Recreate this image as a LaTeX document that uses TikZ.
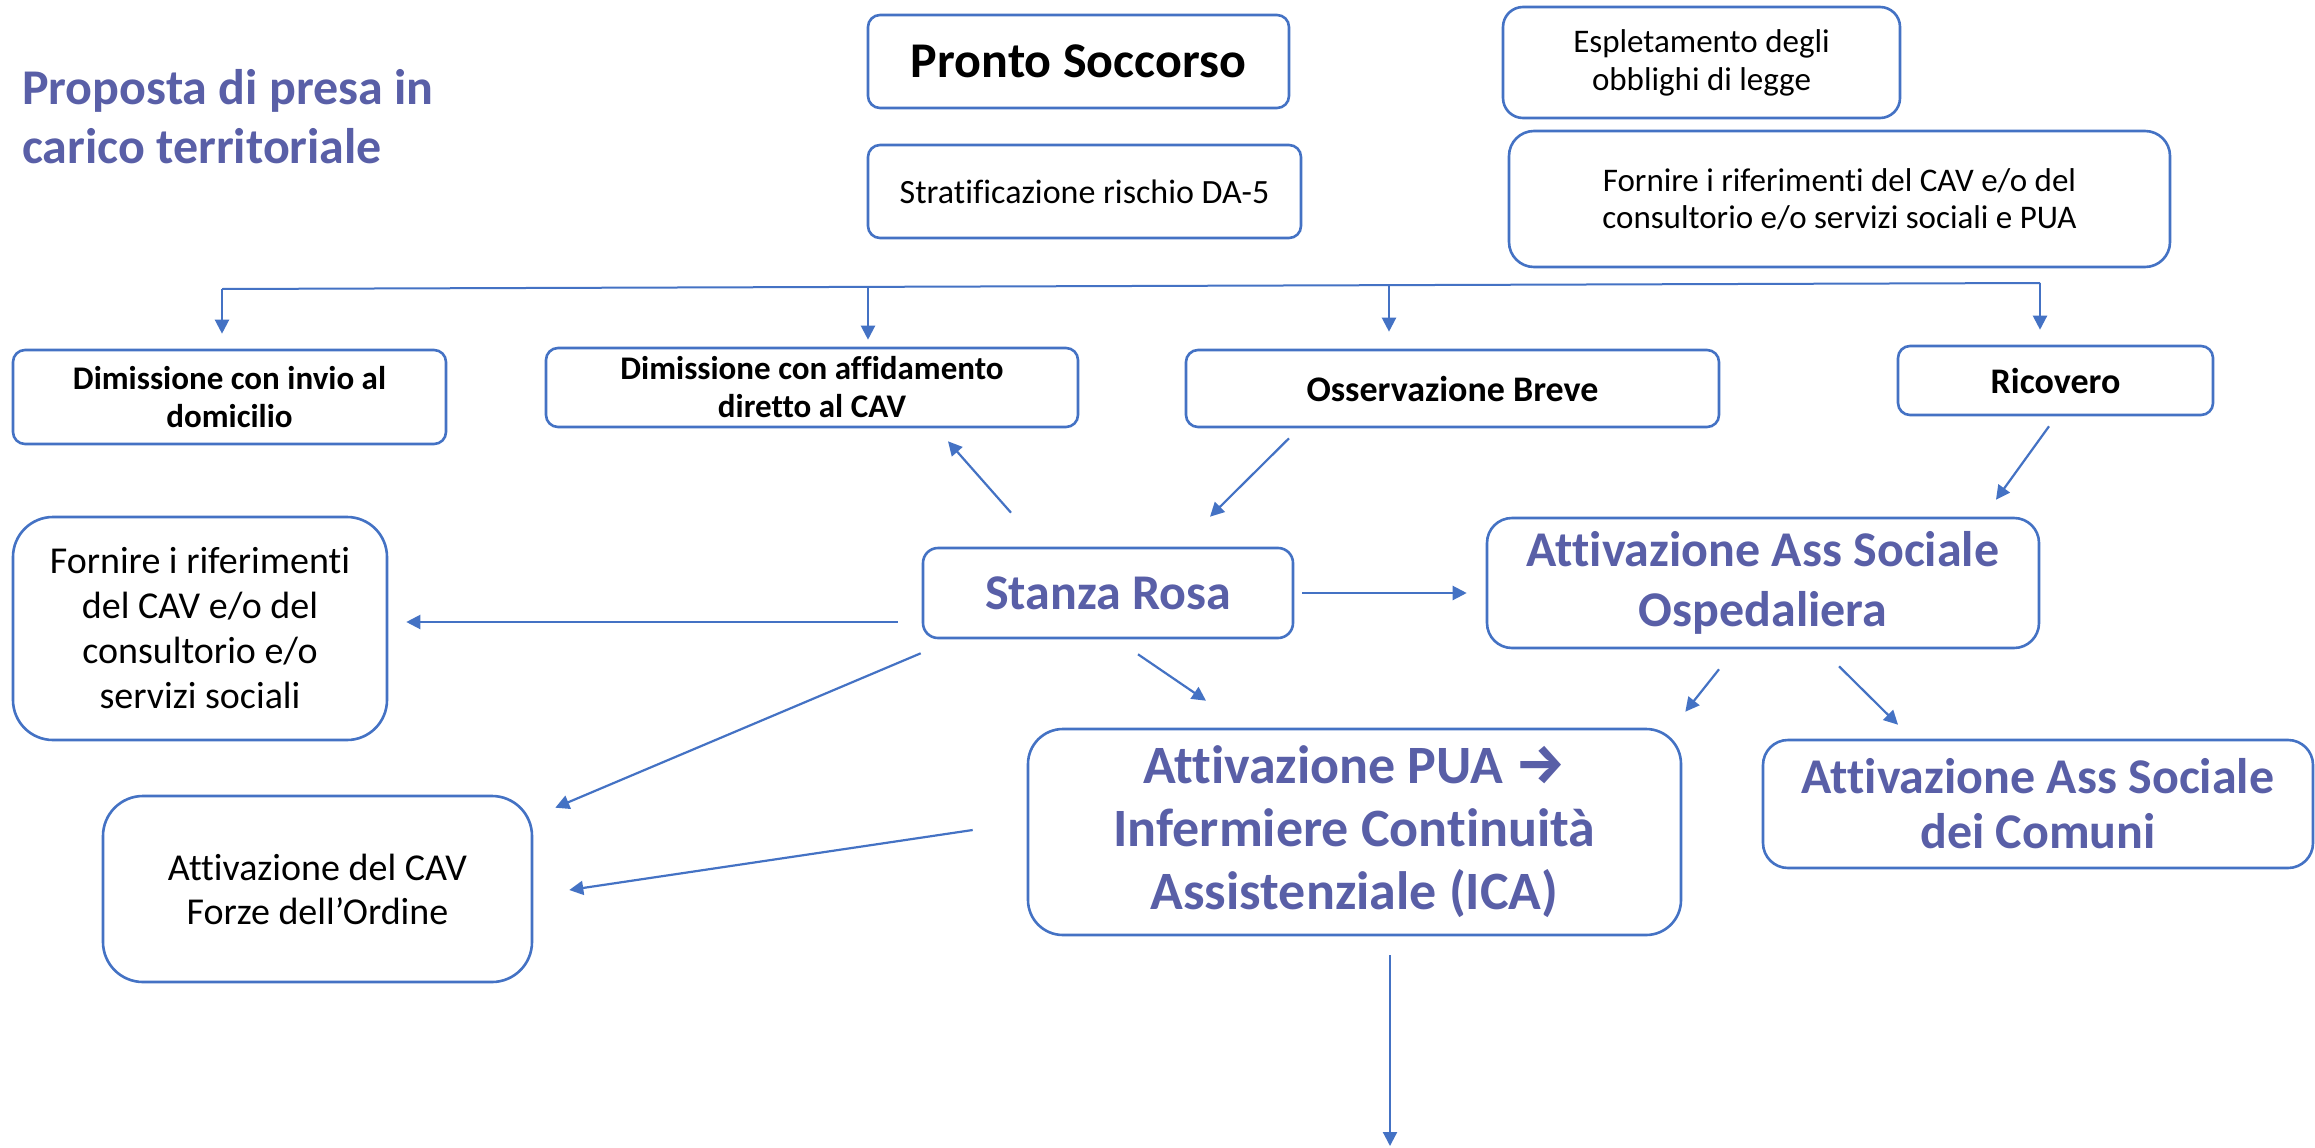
\documentclass[tikz,border=0pt]{standalone}
\usepackage{fontspec}
\setmainfont{Carlito}[Ligatures={NoCommon}]
\newfontfamily\arrowfont{Fira Sans}
\usetikzlibrary{arrows.meta}
\definecolor{boxblue}{RGB}{68,114,196}
\definecolor{viola}{RGB}{89,95,167}
\tikzset{
	rbox/.style={draw=boxblue,line width=2.6pt,rounded corners=#1,align=center,inner sep=0pt},
	rbox/.default=12pt,
	arr/.style={draw=boxblue,line width=2.2pt,-{Triangle[length=14pt,width=14pt]}},
	big/.style={font=\fontsize{50}{60}\selectfont\bfseries,text=viola},
}
\begin{document}
\begin{tikzpicture}[x=1pt,y=1pt]
	\fill[white] (0,0) rectangle (2315,-1148);
	\useasboundingbox (0,0) rectangle (2315,-1148);
	\node[anchor=north west,inner sep=0pt,align=left,text=viola,font=\fontsize{50}{59}\selectfont\bfseries]
		(titolo) at (22,-69) {Proposta di presa in\\carico territoriale};
	% pronto soccorso
	\node[rbox,minimum width=421pt,minimum height=93pt,font=\fontsize{50}{60}\selectfont\bfseries]
		(ps) at (1078.5,-61.5) {Pronto Soccorso};
	\node[rbox,minimum width=433pt,minimum height=93pt,font=\fontsize{34}{40}\selectfont]
		(strat) at (1084.5,-191.5) {Stratificazione rischio DA-5};
	\node[rbox=20pt,minimum width=397pt,minimum height=111pt,font=\fontsize{33}{38}\selectfont]
		(esp) at (1701.5,-62.5) {Espletamento degli\\obblighi di legge};
	\node[rbox=25pt,minimum width=661pt,minimum height=136pt,font=\fontsize{33}{37}\selectfont]
		(fornps) at (1839.5,-199) {Fornire i riferimenti del CAV e/o del\\consultorio e/o servizi sociali e PUA};
	% esiti
	\node[rbox,minimum width=433pt,minimum height=94pt,font=\fontsize{33}{38}\selectfont\bfseries]
		(dimdom) at (229.5,-397) {Dimissione con invio al\\domicilio};
	\node[rbox,minimum width=532pt,minimum height=79pt,font=\fontsize{33}{38}\selectfont\bfseries]
		(dimcav) at (812,-387.5) {Dimissione con affidamento\\diretto al CAV};
	\node[rbox,minimum width=533pt,minimum height=77pt,font=\fontsize{36}{42}\selectfont\bfseries]
		(oss) at (1452.5,-388.5) {Osservazione Breve};
	\node[rbox,minimum width=315pt,minimum height=69pt,font=\fontsize{36}{42}\selectfont\bfseries]
		(ric) at (2055.5,-380.5) {Ricovero};
	% percorso
	\node[rbox=40pt,minimum width=374pt,minimum height=223pt,font=\fontsize{38}{45}\selectfont]
		(fornsr) at (200,-628.5) {Fornire i riferimenti\\del CAV e/o del\\consultorio e/o\\servizi sociali};
	\node[rbox=15pt,minimum width=370pt,minimum height=90pt,big]
		(rosa) at (1108,-593) {Stanza Rosa};
	\node[rbox=25pt,minimum width=552pt,minimum height=130pt,big]
		(assosp) at (1763,-583) {Attivazione Ass Sociale\\Ospedaliera};
	\node[rbox=35pt,minimum width=653pt,minimum height=206pt,big,font=\fontsize{54}{63}\selectfont\bfseries]
		(pua) at (1354.5,-832) {Attivazione PUA {\arrowfont\bfseries\fontsize{56}{63}\selectfont →}\\Infermiere Continuità\\Assistenziale (ICA)};
	\node[rbox=25pt,minimum width=550pt,minimum height=128pt,big,font=\fontsize{50}{55}\selectfont\bfseries]
		(comuni) at (2038,-804) {Attivazione Ass Sociale\\dei Comuni};
	\node[rbox=40pt,minimum width=429pt,minimum height=186pt,font=\fontsize{38}{44}\selectfont]
		(cav) at (317.5,-889) {Attivazione del CAV\\Forze dell’Ordine};
	% linea di smistamento
	\coordinate (b1) at (222,-289);
	\coordinate (b2) at (868,-287);
	\coordinate (b3) at (1389,-285.5);
	\coordinate (b4) at (2040,-283);
	\draw[boxblue,line width=2pt] (b1) -- (b4);
	\foreach \b/\n/\g in {b1/dimdom/15,b2/dimcav/7,b3/oss/17,b4/ric/15}
		\draw[arr,shorten >=\g pt] (\b) -- (\b |- \n.north);
	% frecce
	\draw[arr] ([shift={(-97,34)}]rosa.north) -- ([shift={(136,-13)}]dimcav.south);
	\draw[arr] ([shift={(-163.5,-10)}]oss.south) -- ([shift={(102,30)}]rosa.north);
	\draw[arr] ([shift={(-6.5,-10)}]ric.south) -- ([shift={(233,17)}]assosp.north);
	\draw[arr] ([shift={(-24,-29)}]rosa.west) -- ([shift={(18,6.5)}]fornsr.east);
	\draw[arr,shorten <=8pt,shorten >=19pt] (rosa.east) -- (rosa.east -| assosp.west);
	\draw[arr] ([shift={(30,-15)}]rosa.south) -- ([shift={(-148.5,27)}]pua.north);
	\draw[arr] ([shift={(-1,-14)}]rosa.south west) -- ([shift={(22,-13)}]cav.north east);
	\draw[arr] ([shift={(-54,2)}]pua.west) -- ([shift={(36,-1)}]cav.east);
	\draw[arr] ([shift={(-44,-20)}]assosp.south) -- ([shift={(3,16)}]pua.north east);
	\draw[arr] ([shift={(76,-17)}]assosp.south) -- ([shift={(-140,14)}]comuni.north);
	\coordinate (fine) at (1390,-1146);
	\draw[arr,shorten <=19pt] (fine |- pua.south) -- (fine);
\end{tikzpicture}
\end{document}
